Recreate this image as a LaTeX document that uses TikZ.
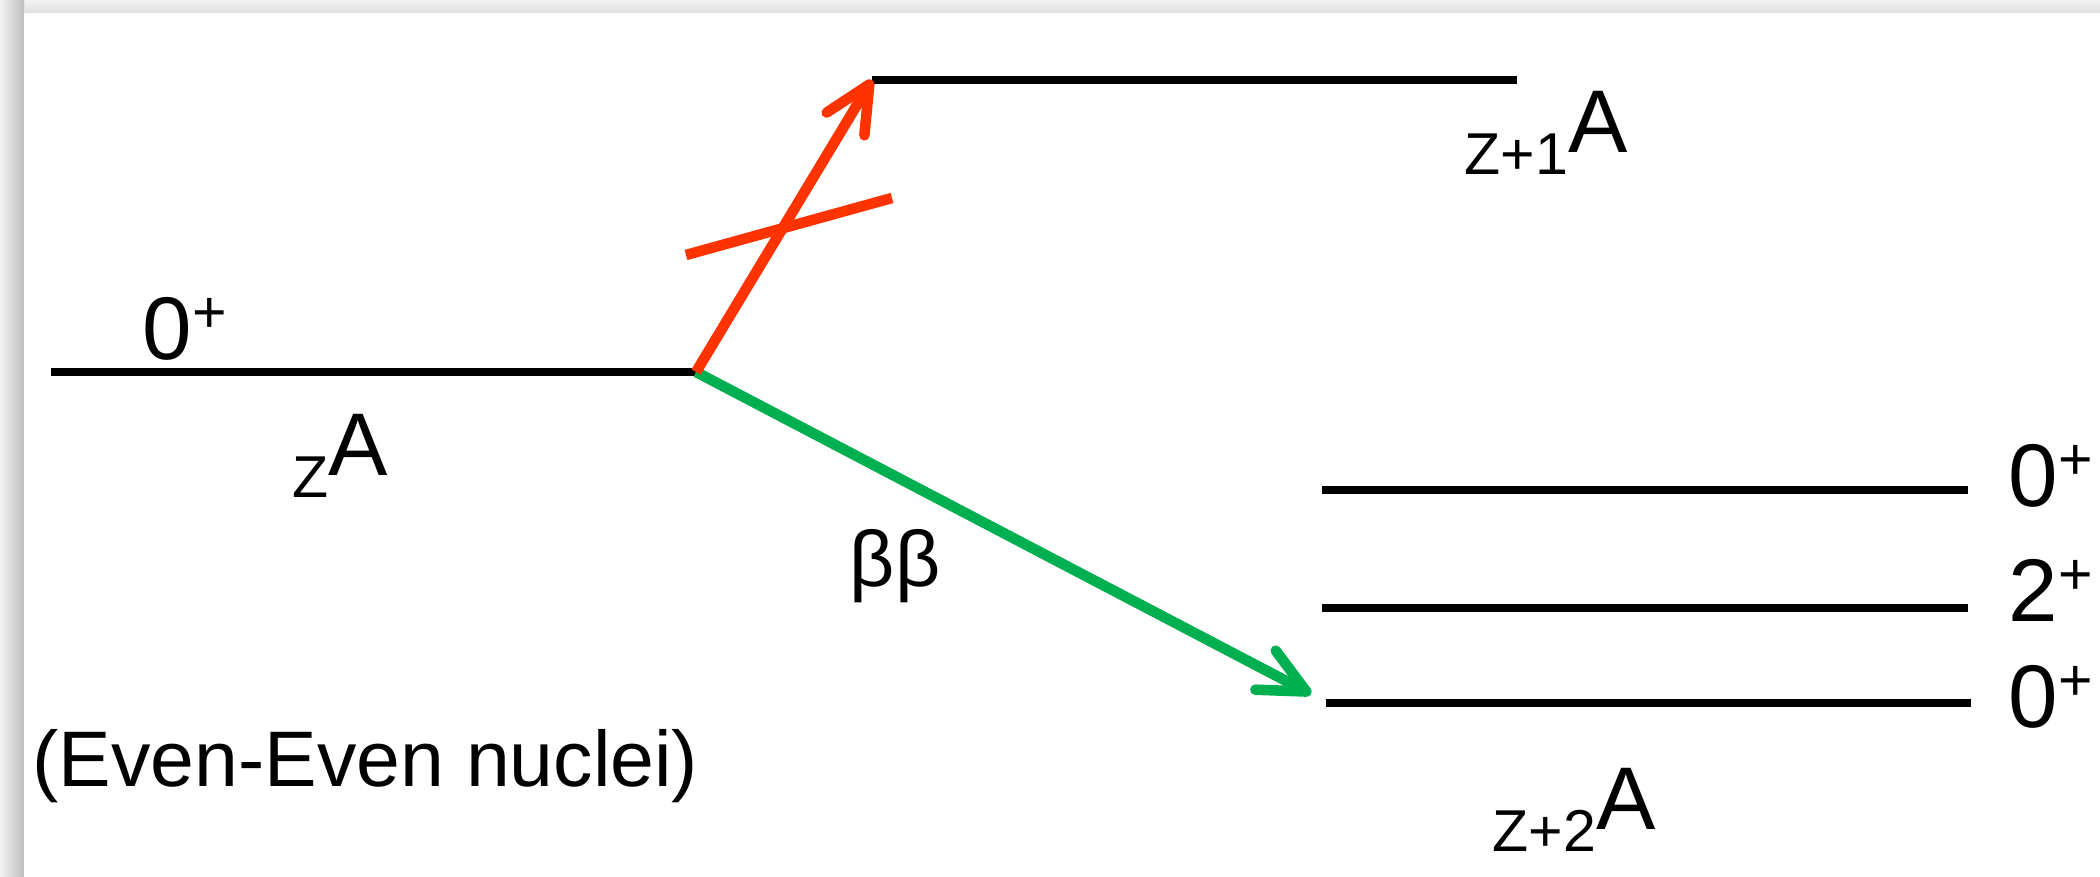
\documentclass[tikz,border=0pt]{standalone}
\usepackage{fontspec}
\setmainfont{Liberation Sans}
\usetikzlibrary{arrows.meta}
\definecolor{ink}{HTML}{000000}
\definecolor{vetoRed}{HTML}{FF3300}
\definecolor{bbGreen}{HTML}{00B050}
\definecolor{shadow}{HTML}{BDBDBD}
\newcommand{\bigsz}{\fontsize{25.3pt}{30pt}\selectfont}
\newcommand{\subsz}{\fontsize{16.8pt}{20pt}\selectfont}
\newcommand{\txtsz}{\fontsize{22.4pt}{27pt}\selectfont}
\newcommand{\nucl}[1]{{\subsz\raisebox{-6.1pt}{#1}}A}
\newcommand{\spin}[1]{#1{\subsz\raisebox{7.7pt}{+}}}
\tikzset{
  stateline/.style={line width=2.4pt,draw=ink},
  decay/.style={-{Straight Barb[length=4.6mm,width=4.4mm,line cap=round,line join=round]}},
  lab/.style={inner sep=0pt,anchor=base west,text=ink,font=\bigsz}
}

\begin{document}
\begin{tikzpicture}[
    x=0.01cm,y=-0.01cm,
    forbidden/.style={decay,line width=3pt,draw=vetoRed},
    allowed/.style={decay,line width=3pt,draw=bbGreen},
    cross/.style={line width=3pt,draw=vetoRed}
  ]
    \useasboundingbox (0,0) rectangle (2100,877);
    \fill[white] (0,0) rectangle (2100,877);
    \shade[top color=shadow!20,bottom color=shadow!50] (0,0) rectangle (2100,13);
    \shade[left color=shadow!20,right color=shadow!100] (0,0) rectangle (24,877);
    \fill[white] (24,13) rectangle (2100,877);

    \coordinate (zL) at (51,372);
    \coordinate (zR) at (696,372);
    \coordinate (z1L) at (872,80);
    \coordinate (z1R) at (1517,80);
    \coordinate (z2aL) at (1322,490);
    \coordinate (z2aR) at (1968,490);
    \coordinate (z2bL) at (1322,608);
    \coordinate (z2bR) at (1968,608);
    \coordinate (z2cL) at (1326,703);
    \coordinate (z2cR) at (1971,703);
    \coordinate (bbTip) at (1311,694);
    \coordinate (veto1) at (686,255);
    \coordinate (veto2) at (892,198);

    \draw[stateline] (zL) -- (zR);
    \draw[stateline] (z1L) -- (z1R);
    \draw[stateline] (z2aL) -- (z2aR);
    \draw[stateline] (z2bL) -- (z2bR);
    \draw[stateline] (z2cL) -- (z2cR);

    \draw[allowed] (zR) -- (bbTip);
    \draw[forbidden] (zR) -- (z1L);
    \draw[cross] (veto1) -- (veto2);

    \node[lab] (spinZ) at (142,360) {\spin{0}};
    \node[lab] (spinA) at (2008,507) {\spin{0}};
    \node[lab] (spinB) at (2008,622) {\spin{2}};
    \node[lab] (spinC) at (2008,728) {\spin{0}};

    \node[lab] (nucZ) at (292,476) {\nucl{Z}};
    \node[lab] (nucZ1) at (1464,153) {\nucl{Z+1}};
    \node[lab] (nucZ2) at (1492,830) {\nucl{Z+2}};

    \node[lab,font=\txtsz] (bb) at (849,587) {ββ};
    \node[lab,font=\txtsz] (evenEven) at (32,787) {(Even-Even nuclei)};
  \end{tikzpicture}
\end{document}
